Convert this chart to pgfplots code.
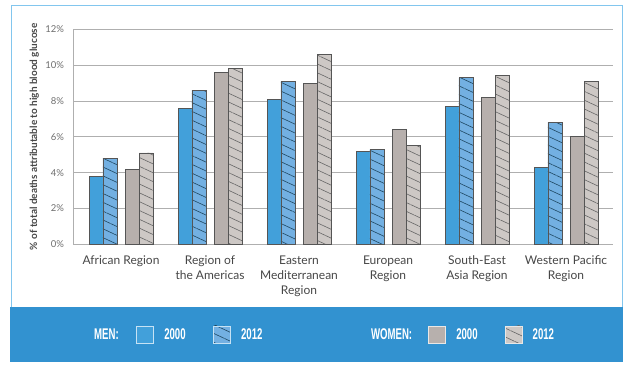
\documentclass[border=0pt]{standalone}
\usepackage{fontspec}
\setmainfont{Lato}
\newfontfamily\legfont[FakeStretch=0.62]{Liberation Sans}
\usepackage{pgfplots}
\pgfplotsset{compat=1.18}
\usetikzlibrary{patterns.meta}
\definecolor{menA}{RGB}{66,160,218}
\definecolor{menB}{RGB}{115,176,226}
\definecolor{womA}{RGB}{183,176,173}
\definecolor{womB}{RGB}{205,200,197}
\definecolor{band}{RGB}{50,146,208}
\definecolor{frame}{RGB}{130,198,238}
\definecolor{barline}{RGB}{85,85,85}
\definecolor{gridc}{RGB}{175,175,175}
\definecolor{tickc}{RGB}{110,110,110}
\definecolor{labc}{RGB}{70,70,70}
\begin{document}
\begin{tikzpicture}[x=1pt,y=1pt]
\useasboundingbox (0,0) rectangle (636,375);
\fill[band] (10.3,13.3) rectangle (623.3,67.7);
\draw[frame, line width=1pt] (11,67.7) -- (11,369.3) -- (622.7,369.3) -- (622.7,67.7);
\begin{axis}[
  at={(73.3pt,130.7pt)}, anchor=south west,
  scale only axis, width=539.7pt, height=215pt,
  xmin=-0.536, xmax=5.528, ymin=0, ymax=12,
  axis x line*=bottom, axis y line*=left,
  axis line style={gridc, line width=0.9pt, -},
  ymajorgrids, grid style={gridc, line width=0.8pt},
  ytick={0,2,4,6,8,10,12},
  yticklabel={\pgfmathprintnumber{\tick}\%},
  /pgf/number format/assume math mode=true,
  yticklabel style={font=\fontsize{9.5}{11}\selectfont, text=tickc, inner sep=0pt, xshift=-9pt},
  xtick={0,1,2,3,4,5},
  xticklabels={African Region, {Region of\\the Americas}, {Eastern\\Mediterranean\\Region}, {European\\Region}, {South-East\\Asia Region}, {Western Pacific\\Region}},
  xticklabel style={font=\fontsize{12}{15}\selectfont, text=labc, align=center, inner sep=0pt, yshift=-11pt},
  major tick length=0pt,
  ylabel={\% of total deaths attributable to high blood glucose},
  ylabel style={font=\fontsize{10}{12}\selectfont\bfseries, text=labc},
  ylabel shift=3pt,
  ybar, bar width=0.157,
  legend columns=-1,
  legend style={at={(0.0198,-0.4195)}, anchor=west, draw=none, fill=none, inner sep=0pt,
    nodes={inner sep=0pt, anchor=west, text=white, font=\legfont\bfseries\fontsize{15.5}{15.5}\selectfont}},
  /tikz/every odd column/.append style={column sep=10pt},
]
\addlegendimage{empty legend}
\addlegendentry{\makebox[42.3pt][l]{MEN:}}
\addplot[fill=menA, draw=barline, line width=0.8pt, bar shift=-0.281,
  legend image code/.code={\path[fill=menA, draw=white!70!menA, line width=0.8pt] (0pt,-8.5pt) rectangle (17pt,8.5pt);}]
  coordinates {(0,3.8) (1,7.6) (2,8.1) (3,5.2) (4,7.7) (5,4.3)};
\addlegendentry{\makebox[49pt][l]{2000}}
\addplot[fill=menB, draw=barline, line width=0.8pt, bar shift=-0.124,
  postaction={pattern={Lines[angle=-25,distance=8pt,line width=0.6pt]}, pattern color=menA!45!black},
  legend image code/.code={\path[fill=menB, draw=none] (0pt,-8.5pt) rectangle (17pt,8.5pt); \path[draw=menA!45!black, line width=0.6pt] (0pt,5pt) -- (17pt,-1pt) (5pt,-6pt) -- (12pt,-8.5pt) (10pt,8.5pt) -- (17pt,6pt); \path[draw=white!70!menA, line width=0.8pt] (0pt,-8.5pt) rectangle (17pt,8.5pt);}]
  coordinates {(0,4.8) (1,8.6) (2,9.1) (3,5.3) (4,9.3) (5,6.8)};
\addlegendentry{\makebox[120pt][l]{2012}}
\addlegendimage{empty legend}
\addlegendentry{\makebox[57.4pt][l]{WOMEN:}}
\addplot[fill=womA, draw=barline, line width=0.8pt, bar shift=0.124,
  legend image code/.code={\path[fill=womA, draw=white!70!womA, line width=0.8pt] (0pt,-8.5pt) rectangle (17pt,8.5pt);}]
  coordinates {(0,4.2) (1,9.6) (2,9.0) (3,6.4) (4,8.2) (5,6.0)};
\addlegendentry{\makebox[48.6pt][l]{2000}}
\addplot[fill=womB, draw=barline, line width=0.8pt, bar shift=0.281,
  postaction={pattern={Lines[angle=-25,distance=8pt,line width=0.6pt]}, pattern color=black!60},
  legend image code/.code={\path[fill=womB, draw=none] (0pt,-8.5pt) rectangle (17pt,8.5pt); \path[draw=black!50, line width=0.6pt] (0pt,5pt) -- (17pt,-1pt) (5pt,-6pt) -- (12pt,-8.5pt) (10pt,8.5pt) -- (17pt,6pt); \path[draw=white!70!womA, line width=0.8pt] (0pt,-8.5pt) rectangle (17pt,8.5pt);}]
  coordinates {(0,5.1) (1,9.8) (2,10.6) (3,5.5) (4,9.4) (5,9.1)};
\addlegendentry{2012}
\end{axis}
\end{tikzpicture}
\end{document}
